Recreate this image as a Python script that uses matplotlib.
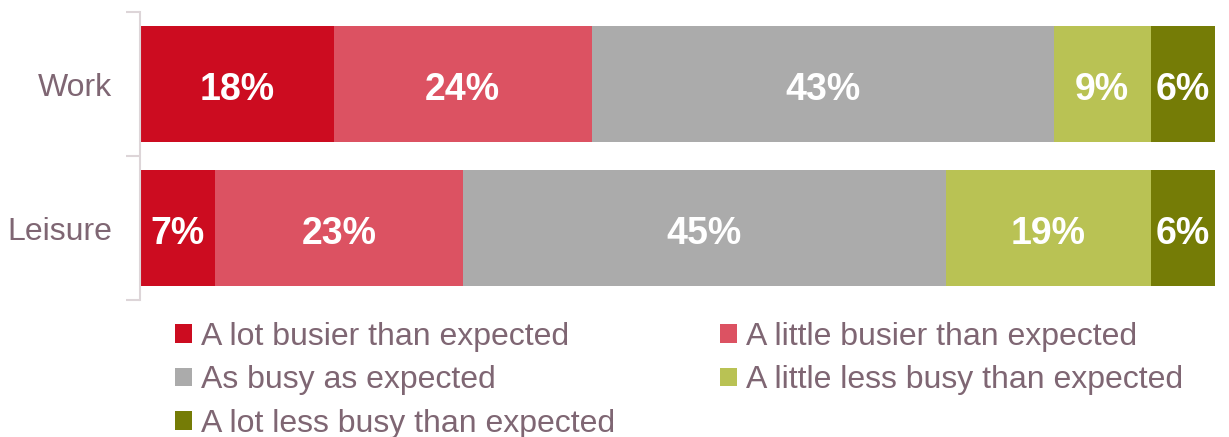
import matplotlib.pyplot as plt
from matplotlib.patches import Patch

# data
categories = ['Work', 'Leisure']
series = ['A lot busier than expected', 'A little busier than expected',
          'As busy as expected', 'A little less busy than expected',
          'A lot less busy than expected']
work = [18, 24, 43, 9, 6]
leisure = [7, 23, 45, 19, 6]
colors = ['#CC0C20', '#DC5262', '#ABABAB', '#B9C254', '#757C06']

plt.rcParams['font.family'] = ['Liberation Sans', 'DejaVu Sans']
text_col = '#7F6673'

fig = plt.figure(figsize=(12.29, 4.37), dpi=100)
W, H = 1229, 437
ax = fig.add_axes([140 / W, 1 - 300 / H, (1215 - 140) / W, (300 - 12) / H])

ypos = [1, 0]
values = [work, leisure]
for row, y in zip(values, ypos):
    left = 0
    for v, c in zip(row, colors):
        ax.barh(y, v, left=left, height=0.805, color=c, linewidth=0)
        # labels sit a touch below the bar centre, as in the original
        ax.text(left + v / 2, y - 0.015, '{}%'.format(v), ha='center',
                va='center_baseline', color='white', fontsize=27, fontweight='bold')
        left += v

ax.set_xlim(0, 100)
ax.set_ylim(-0.5, 1.5)
ax.set_yticks(ypos)
ax.set_yticklabels(categories, fontsize=23, color=text_col)
ax.set_yticks([-0.5, 0.5, 1.5], minor=True)
ax.tick_params(axis='y', which='major', length=0, pad=20)
ax.tick_params(axis='y', which='minor', length=10, width=1.5, color='#DDD5D8')
ax.set_xticks([])
for s in ['top', 'right', 'bottom']:
    ax.spines[s].set_visible(False)
ax.spines['left'].set_color('#DDD5D8')
ax.spines['left'].set_linewidth(1.5)

handles = [Patch(facecolor=c, edgecolor='none') for c in colors]
order = [0, 2, 4, 1, 3]
leg = fig.legend([handles[i] for i in order], [series[i] for i in order],
                 ncol=2, loc='upper left', bbox_to_anchor=(175 / W, 1 - 322 / H),
                 frameon=False, fontsize=23, handlelength=0.52, handleheight=0.52,
                 handletextpad=0.28, columnspacing=3.3, labelspacing=0.42,
                 borderpad=0, borderaxespad=0)
for t in leg.get_texts():
    t.set_color(text_col)

fig.savefig('out.png', dpi=100)
